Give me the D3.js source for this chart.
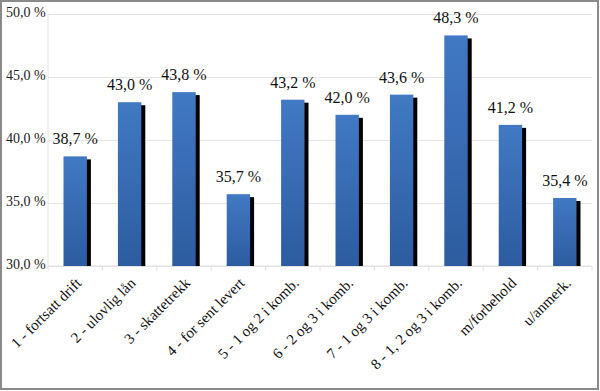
<!DOCTYPE html>
<html>
<head>
<meta charset="utf-8">
<script src="https://cdn.jsdelivr.net/npm/d3@7"></script>
<style>
  body { margin: 0; background: #fff; }
  svg { display: block; }
  svg text { font-family: "Liberation Serif", "DejaVu Serif", serif; }
</style>
</head>
<body>
<svg id="chart" width="600" height="391"></svg>
<script>
const categories = [
  "1 - fortsatt drift", "2 - ulovlig lån", "3 - skattetrekk", "4 - for sent levert",
  "5 - 1 og 2 i komb.", "6 - 2 og 3 i komb.", "7 - 1 og 3 i komb.",
  "8 - 1, 2 og 3 i komb.", "m/forbehold", "u/anmerk."
];
const values = [38.7, 43.0, 43.8, 35.7, 43.2, 42.0, 43.6, 48.3, 41.2, 35.4];
const yTicks = [30, 35, 40, 45, 50];

const fmt = (v) => d3.format(".1f")(v).replace(".", ",") + " %";
const serif = "Liberation Serif";

const svg = d3.select("#chart");
const width = 600, height = 391;
const margin = { top: 14, right: 8, bottom: 125, left: 48 };

svg.append("rect")
  .attr("x", 1).attr("y", 1)
  .attr("width", width - 3).attr("height", height - 3)
  .attr("fill", "#fff")
  .attr("stroke", "#8a8a8a")
  .attr("stroke-width", 2);

const defs = svg.append("defs");
const grad = defs.append("linearGradient")
  .attr("id", "barGrad")
  .attr("x1", 0).attr("y1", 0).attr("x2", 0).attr("y2", 1);
grad.append("stop").attr("offset", "0%").attr("stop-color", "#4179c4");
grad.append("stop").attr("offset", "100%").attr("stop-color", "#2d5c9f");

const x = d3.scaleBand()
  .domain(categories)
  .range([margin.left, width - margin.right])
  .paddingInner(0)
  .paddingOuter(0);

const y = d3.scaleLinear()
  .domain([30, 50])
  .range([height - margin.bottom, margin.top]);

// gridlines
svg.append("g")
  .attr("transform", `translate(${margin.left},0)`)
  .call(d3.axisLeft(y).tickValues(yTicks).tickSize(-(width - margin.left - margin.right)).tickFormat(""))
  .call((g) => g.select(".domain").remove())
  .call((g) => g.selectAll("line").attr("stroke", "#e4e4e4"));

// y labels
svg.append("g")
  .selectAll("text")
  .data(yTicks)
  .join("text")
  .attr("x", 6)
  .attr("y", (d) => y(d))
  .attr("dominant-baseline", "middle")
  .attr("font-family", serif)
  .attr("font-size", 14)
  .attr("fill", "#222")
  .text((d) => fmt(d));

// left axis line
svg.append("line")
  .attr("x1", margin.left).attr("x2", margin.left)
  .attr("y1", y(50)).attr("y2", y(30))
  .attr("stroke", "#e4e4e4");

// bottom axis
svg.append("line")
  .attr("x1", margin.left).attr("x2", width - margin.right)
  .attr("y1", y(30)).attr("y2", y(30))
  .attr("stroke", "#e0e0e0");

svg.append("g")
  .selectAll("line")
  .data(d3.range(categories.length + 1))
  .join("line")
  .attr("x1", (i) => margin.left + i * x.step())
  .attr("x2", (i) => margin.left + i * x.step())
  .attr("y1", y(30))
  .attr("y2", y(30) + 5)
  .attr("stroke", "#e0e0e0");

const barW = x.bandwidth() * 0.43;
const groups = svg.append("g")
  .selectAll("g")
  .data(categories.map((c, i) => ({ c, v: values[i] })))
  .join("g")
  .attr("transform", (d) => `translate(${x(d.c) + x.bandwidth() / 2},0)`);

groups.append("rect")
  .attr("x", -barW / 2 + 4)
  .attr("y", (d) => y(d.v) + 3)
  .attr("width", barW)
  .attr("height", (d) => y(30) - y(d.v) - 3)
  .attr("fill", "#000");

groups.append("rect")
  .attr("x", -barW / 2)
  .attr("y", (d) => y(d.v))
  .attr("width", barW)
  .attr("height", (d) => y(30) - y(d.v))
  .attr("fill", "url(#barGrad)");

groups.append("text")
  .attr("x", 0)
  .attr("y", (d) => y(d.v) - 12)
  .attr("text-anchor", "middle")
  .attr("font-family", serif)
  .attr("font-size", 16)
  .attr("fill", "#111")
  .text((d) => fmt(d.v));

// category labels
svg.append("g")
  .selectAll("text")
  .data(categories)
  .join("text")
  .attr("transform", (d) => `translate(${x(d) + x.bandwidth() / 2 + 7},${y(30) + 18}) rotate(-45)`)
  .attr("text-anchor", "end")
  .attr("font-family", serif)
  .attr("font-size", 15)
  .attr("fill", "#111")
  .text((d) => d);
</script>
</body>
</html>
